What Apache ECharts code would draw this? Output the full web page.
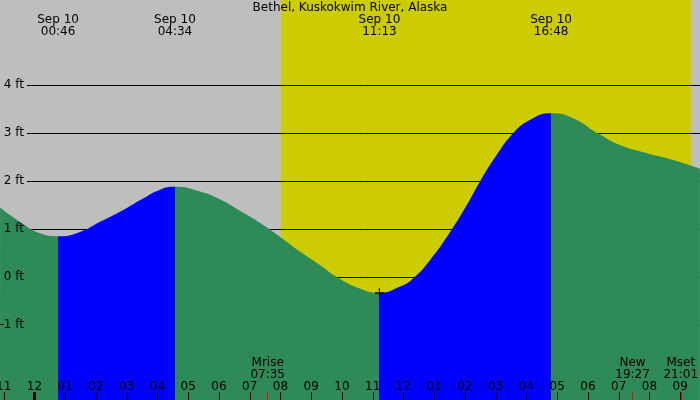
<!DOCTYPE html>
<html>
<head>
<meta charset="utf-8">
<script src="https://cdn.jsdelivr.net/npm/echarts@6.0.0/dist/echarts.min.js"></script>
<style>
  html, body { margin: 0; padding: 0; background: #bebebe; }
  #chart { width: 700px; height: 400px; }
</style>
</head>
<body>
<div id="chart"></div>
<script>
// tide chart, Bethel - times are hours from midnight Sep 10, heights in feet
const title = 'Bethel, Kuskokwim River, Alaska'
const day = 'Sep 10'

const tideHours = [-1.12, -0.47, 0.18, 0.767, 1.48, 2.13, 2.78, 3.43, 4.08, 4.567, 5.38, 6.03, 6.68, 7.33, 7.98, 8.63, 9.28, 9.83, 10.58, 11.217, 11.89, 12.31, 12.86, 13.57, 14.06, 14.49, 15.03, 15.56, 16.11, 16.8, 17.51, 18.33, 19.04, 19.92, 20.77, 21.64]
const tideFeet = [1.45, 1.15, 0.91, 0.85, 0.94, 1.15, 1.36, 1.60, 1.82, 1.88, 1.78, 1.62, 1.38, 1.13, 0.84, 0.53, 0.25, 0.0, -0.24, -0.33, -0.20, -0.03, 0.35, 0.99, 1.50, 1.99, 2.54, 2.99, 3.27, 3.41, 3.31, 2.99, 2.75, 2.58, 2.44, 2.26]

const extremeTimes = ['00:46', '04:34', '11:13', '16:48']
const risingTide = [['00:46', '04:34'], ['11:13', '16:48']]
const lowMark = ['11:13', -0.33]
const sunTimes = ['08:01', '21:22']
const moonNames = ['Mrise', 'New', 'Mset']
const moonTimes = ['07:35', '19:27', '21:01']

const hourTicks = [-1, 0, 1, 2, 3, 4, 5, 6, 7, 8, 9, 10, 11, 12, 13, 14, 15, 16, 17, 18, 19, 20, 21]
const hourLabels = ['11', '12', '01', '02', '03', '04', '05', '06', '07', '08', '09', '10', '11', '12', '01', '02', '03', '04', '05', '06', '07', '08', '09']
const feetTicks = [-1, 0, 1, 2, 3, 4]

const viewHours = [-1.122, 21.642]
const viewFeet = [-2.5625, 5.771]
const gridStart = -0.244

const GREEN = '#2e8b57'
const BLUE = '#0000ff'
const FONT = 'DejaVu Sans'

function toHours(t) {
  const p = t.split(':')
  return +p[0] + p[1] / 60
}
function nearest(list, v) {
  let best = 0
  list.forEach((x, i) => { if (Math.abs(x - v) < Math.abs(list[best] - v)) best = i })
  return best
}

const extremeHours = extremeTimes.map(toHours)
const moonHours = moonTimes.map(toHours)
const sunrise = toHours(sunTimes[0])
const sunset = toHours(sunTimes[1])

const chart = echarts.init(document.getElementById('chart'))
const textStyle = { fontFamily: FONT, fontSize: 12, color: '#000' }

const xBase = {
  type: 'value',
  min: viewHours[0],
  max: viewHours[1],
  position: 'bottom',
  axisLine: { show: false, onZero: false },
  splitLine: { show: false }
}

chart.setOption({
  animation: false,
  backgroundColor: '#bebebe',
  title: {
    text: title,
    left: 'center',
    top: 2,
    padding: 0,
    textStyle: Object.assign({ fontWeight: 'normal' }, textStyle)
  },
  grid: { left: 0, right: 0, top: 0, bottom: 0, containLabel: false, outerBoundsMode: 'none' },
  visualMap: {
    type: 'piecewise',
    show: false,
    seriesIndex: 0,
    dimension: 0,
    pieces: risingTide.map(r => ({ gte: toHours(r[0]), lte: toHours(r[1]), color: BLUE })),
    outOfRange: { color: GREEN }
  },
  xAxis: [
    Object.assign({}, xBase, {
      z: 4,
      axisTick: { inside: true, length: 8, customValues: hourTicks, lineStyle: { color: '#000' } },
      axisLabel: Object.assign({
        inside: true, margin: 7, customValues: hourTicks,
        formatter: v => hourLabels[nearest(hourTicks, v)]
      }, textStyle)
    }),
    Object.assign({}, xBase, {
      z: 4,
      axisTick: { inside: true, length: 8, customValues: [0], lineStyle: { color: '#000', width: 3 } },
      axisLabel: { show: false }
    }),
    Object.assign({}, xBase, {
      z: 4,
      axisTick: { inside: true, length: 8, customValues: moonHours, lineStyle: { color: '#ff0000' } },
      axisLabel: Object.assign({
        inside: true, margin: 19, customValues: moonHours, lineHeight: 12,
        formatter: v => { const i = nearest(moonHours, v); return moonNames[i] + '\n' + moonTimes[i] }
      }, textStyle)
    }),
    Object.assign({}, xBase, {
      position: 'top',
      z: 4,
      axisTick: { show: false },
      axisLabel: Object.assign({
        inside: true, margin: 14, customValues: extremeHours, lineHeight: 12,
        formatter: v => day + '\n' + extremeTimes[nearest(extremeHours, v)]
      }, textStyle)
    })
  ],
  yAxis: {
    type: 'value',
    min: viewFeet[0],
    max: viewFeet[1],
    position: 'left',
    offset: -27,
    z: 4,
    axisLine: { show: false, onZero: false },
    axisTick: { show: false },
    splitLine: { show: false },
    axisLabel: Object.assign({
      margin: 3, customValues: feetTicks,
      formatter: v => v + ' ft'
    }, textStyle)
  },
  series: [
    {
      type: 'line',
      z: 2,
      silent: true,
      data: tideHours.map((h, i) => [h, tideFeet[i]]),
      showSymbol: false,
      smooth: 0.5,
      lineStyle: { width: 0 },
      areaStyle: { origin: 'start', opacity: 1 },
      markPoint: {
        z: 3,
        silent: true,
        symbol: 'path://M3.5,0h1v8h-1zM0,3.5h8v1h-8z',
        symbolSize: 9,
        itemStyle: { color: '#000' },
        label: { show: false },
        data: [{ coord: [toHours(lowMark[0]), lowMark[1]] }]
      }
    },
    {
      // backdrop: night/day shading and the height lines
      type: 'line',
      z: 0,
      silent: true,
      data: [],
      markArea: {
        z: 0,
        silent: true,
        data: [
          [{ xAxis: viewHours[0], itemStyle: { color: '#bebebe', opacity: 1 } }, { xAxis: sunrise }],
          [{ xAxis: sunrise, itemStyle: { color: '#cccc00', opacity: 1 } }, { xAxis: sunset }],
          [{ xAxis: sunset, itemStyle: { color: '#bebebe', opacity: 1 } }, { xAxis: viewHours[1] }]
        ]
      },
      markLine: {
        z: 1,
        silent: true,
        symbol: 'none',
        label: { show: false },
        lineStyle: { color: '#000', width: 1, type: 'solid' },
        data: feetTicks.map(f => [{ coord: [gridStart, f] }, { coord: [viewHours[1], f] }])
      }
    }
  ]
})
</script>
</body>
</html>
